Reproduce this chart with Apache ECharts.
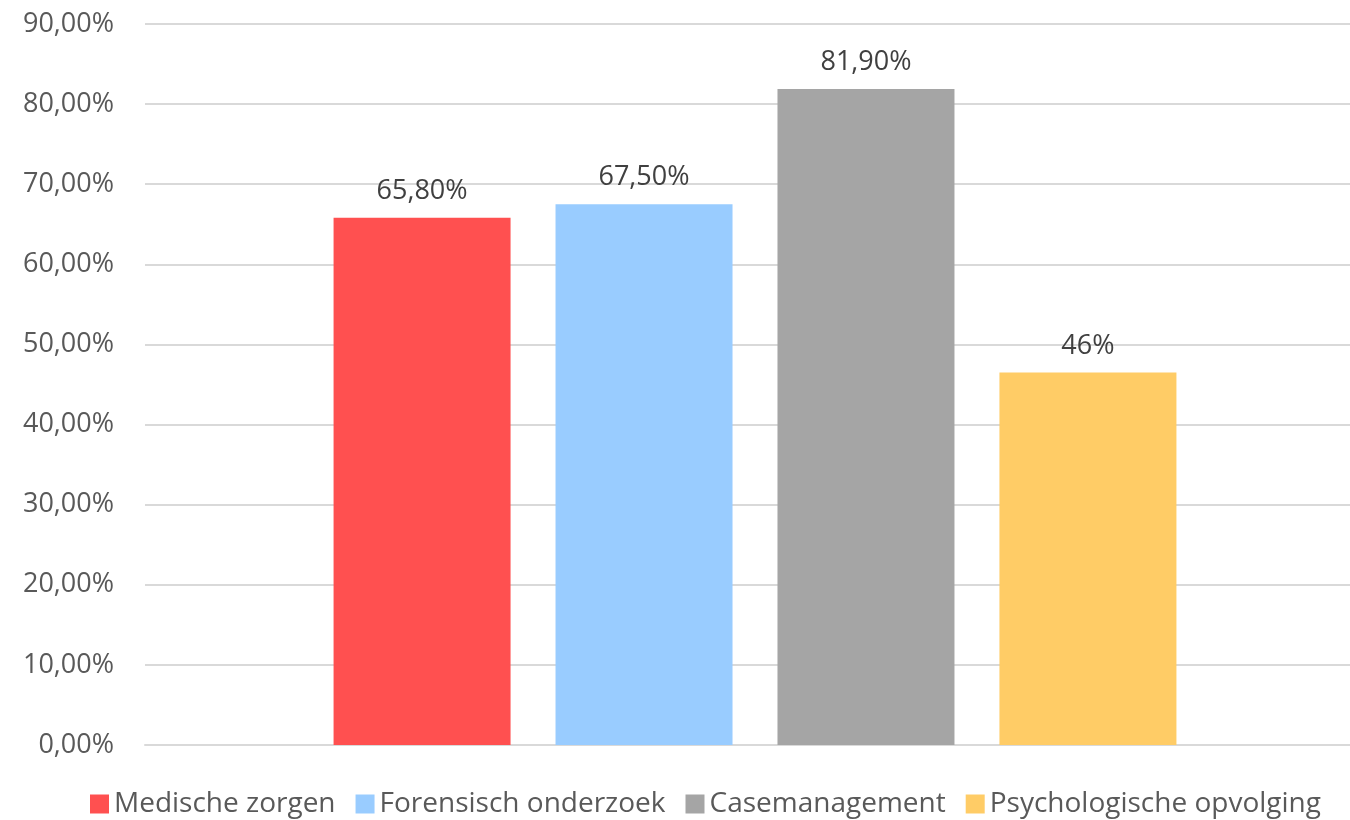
<!DOCTYPE html>
<html><head><meta charset="utf-8">
<script src="https://cdn.jsdelivr.net/npm/echarts@6/dist/echarts.min.js"></script>
<style>html,body{margin:0;padding:0;background:#fff}#c{width:1350px;height:820px}</style>
</head><body><div id="c"></div>
<script>
const seriesNames = ['Medische zorgen', 'Forensisch onderzoek', 'Casemanagement', 'Psychologische opvolging'];
const seriesValues = [65.8, 67.5, 81.9, 46.5];
const valueLabels = ['65,80%', '67,50%', '81,90%', '46%'];
const seriesColors = ['#FF5050', '#99CCFF', '#A5A5A5', '#FFCC66'];
const yTicks = [0, 10, 20, 30, 40, 50, 60, 70, 80, 90];

const font = '"Open Sans", "Noto Sans", sans-serif';
const chart = echarts.init(document.getElementById('c'));
chart.setOption({
  animation: false,
  backgroundColor: '#fff',
  grid: [
    { left: 145, right: 0, top: 24, bottom: 75 },
    { left: 160, right: 0, top: 24, bottom: 75 }
  ],
  legend: {
    bottom: -3, left: 85,
    itemWidth: 19, itemHeight: 19, itemGap: 20,
    icon: 'rect',
    textStyle: { fontFamily: font, fontSize: 28, color: '#595959' },
    data: seriesNames
  },
  xAxis: [
    {
      type: 'category', data: [''], gridIndex: 0,
      axisLine: { lineStyle: { color: '#D9D9D9', width: 2 } },
      axisTick: { show: false }, axisLabel: { show: false }
    },
    {
      type: 'category', data: [''], gridIndex: 1,
      axisLine: { show: false }, axisTick: { show: false }, axisLabel: { show: false }
    }
  ],
  yAxis: [
    {
      type: 'value', min: 0, max: 90, interval: 10, gridIndex: 0,
      axisLine: { show: false }, axisTick: { show: false },
      splitLine: { lineStyle: { color: '#D9D9D9', width: 2 } },
      axisLabel: {
        margin: 31, fontFamily: font, fontSize: 27, color: '#595959',
        formatter: v => yTicks.includes(v) ? v.toFixed(2).replace('.', ',') + '%' : ''
      }
    },
    {
      type: 'value', min: 0, max: 90, interval: 10, gridIndex: 1,
      axisLine: { show: false }, axisTick: { show: false },
      splitLine: { show: false }, axisLabel: { show: false }
    }
  ],
  series: seriesNames.map((n, i) => ({
    name: n, type: 'bar',
    xAxisIndex: 1, yAxisIndex: 1,
    data: [seriesValues[i]],
    barWidth: 177, barGap: '25.4%',
    itemStyle: { color: seriesColors[i] },
    label: {
      show: true, position: 'top', distance: 13,
      fontFamily: font, fontSize: 27, color: '#404040',
      formatter: () => valueLabels[i]
    }
  }))
});
</script></body></html>
